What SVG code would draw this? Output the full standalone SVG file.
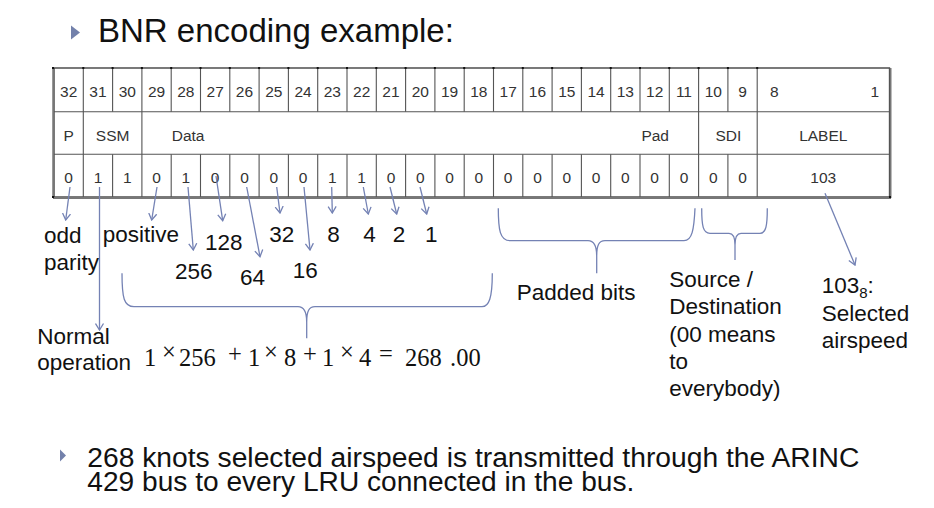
<svg xmlns="http://www.w3.org/2000/svg" width="934" height="508" viewBox="0 0 934 508">
<style>
.t{font-family:"Liberation Sans",Arial,sans-serif;fill:#333;font-size:15.5px}
.c{text-anchor:middle}
.lb{font-family:"Liberation Sans",Arial,sans-serif;fill:#111;font-size:22.5px}
.fm{font-family:"Liberation Serif","Times New Roman",serif;fill:#111;font-size:24.5px}
.gl{stroke:#555;stroke-width:1.1;fill:none}
.con{stroke:#7482b4;stroke-width:1.3;fill:none}
.bul{fill:#7381ab}
</style>
<defs>
<marker id="ah" viewBox="0 0 8 10" refX="7" refY="5" markerWidth="8" markerHeight="10" markerUnits="userSpaceOnUse" orient="auto">
<path d="M0.5,1 L7,5 L0.5,9" fill="none" stroke="#7482b4" stroke-width="1.3"/>
</marker>
</defs>
<rect width="934" height="508" fill="#ffffff"/>

<g id="title">
<polygon class="bul" points="71,25.5 80,32.5 71,39.5"/>
<text x="98" y="42" font-family="Liberation Sans, Arial, sans-serif" font-size="33" fill="#111">BNR encoding example:</text>
</g>

<g id="table">
<rect x="54" y="68" width="835.5" height="129" fill="#fff" stroke="#333" stroke-width="1.3"/>
<line x1="53" y1="198" x2="891" y2="198" stroke="#777" stroke-width="2"/>
<line x1="890.5" y1="68" x2="890.5" y2="198" stroke="#777" stroke-width="2"/>
<line x1="53" y1="68" x2="53" y2="198" stroke="#777" stroke-width="1.5"/>
<line class="gl" x1="54" y1="111.7" x2="889.5" y2="111.7"/>
<line class="gl" x1="54" y1="154.3" x2="889.5" y2="154.3"/>
<path class="gl" d="M83.3,68V197M112.6,68V111.7M112.6,154.3V197M141.9,68V197M171.2,68V111.7M171.2,154.3V197M200.5,68V111.7M200.5,154.3V197M229.8,68V111.7M229.8,154.3V197M259.1,68V111.7M259.1,154.3V197M288.4,68V111.7M288.4,154.3V197M317.7,68V111.7M317.7,154.3V197M347,68V111.7M347,154.3V197M376.3,68V111.7M376.3,154.3V197M405.6,68V111.7M405.6,154.3V197M434.9,68V111.7M434.9,154.3V197M464.2,68V111.7M464.2,154.3V197M493.5,68V111.7M493.5,154.3V197M522.8,68V111.7M522.8,154.3V197M552.1,68V111.7M552.1,154.3V197M581.4,68V111.7M581.4,154.3V197M610.7,68V111.7M610.7,154.3V197M640,68V111.7M640,154.3V197M669.3,68V111.7M669.3,154.3V197M698.6,68V197M727.9,68V111.7M727.9,154.3V197M757.2,68V197"/>
<g fill="#111">
<rect x="82.3" y="67" width="2" height="2"/><rect x="111.6" y="67" width="2" height="2"/><rect x="140.9" y="67" width="2" height="2"/><rect x="170.2" y="67" width="2" height="2"/><rect x="199.5" y="67" width="2" height="2"/><rect x="228.8" y="67" width="2" height="2"/><rect x="258.1" y="67" width="2" height="2"/><rect x="287.4" y="67" width="2" height="2"/><rect x="316.7" y="67" width="2" height="2"/><rect x="346" y="67" width="2" height="2"/><rect x="375.3" y="67" width="2" height="2"/><rect x="404.6" y="67" width="2" height="2"/><rect x="433.9" y="67" width="2" height="2"/><rect x="463.2" y="67" width="2" height="2"/><rect x="492.5" y="67" width="2" height="2"/><rect x="521.8" y="67" width="2" height="2"/><rect x="551.1" y="67" width="2" height="2"/><rect x="580.4" y="67" width="2" height="2"/><rect x="609.7" y="67" width="2" height="2"/><rect x="639" y="67" width="2" height="2"/><rect x="668.3" y="67" width="2" height="2"/><rect x="697.6" y="67" width="2" height="2"/><rect x="726.9" y="67" width="2" height="2"/><rect x="756.2" y="67" width="2" height="2"/>
<rect x="52" y="67" width="2" height="2"/><rect x="52" y="196" width="2" height="2"/><rect x="889" y="196" width="2" height="2"/>
</g>
<g class="t c">
<text x="68.65" y="97">32</text><text x="97.95" y="97">31</text><text x="127.25" y="97">30</text><text x="156.55" y="97">29</text><text x="185.85" y="97">28</text><text x="215.15" y="97">27</text><text x="244.45" y="97">26</text><text x="273.75" y="97">25</text><text x="303.05" y="97">24</text><text x="332.35" y="97">23</text><text x="361.65" y="97">22</text><text x="390.95" y="97">21</text><text x="420.25" y="97">20</text><text x="449.55" y="97">19</text><text x="478.85" y="97">18</text><text x="508.15" y="97">17</text><text x="537.45" y="97">16</text><text x="566.75" y="97">15</text><text x="596.05" y="97">14</text><text x="625.35" y="97">13</text><text x="654.65" y="97">12</text><text x="683.95" y="97">11</text><text x="713.25" y="97">10</text><text x="742.55" y="97">9</text>
<text x="68.65" y="141">P</text><text x="112.6" y="141">SSM</text><text x="728.3" y="141">SDI</text><text x="823.3" y="141">LABEL</text>
<text x="68.65" y="182.5">0</text><text x="97.95" y="182.5">1</text><text x="127.25" y="182.5">1</text><text x="156.55" y="182.5">0</text><text x="185.85" y="182.5">1</text><text x="215.15" y="182.5">0</text><text x="244.45" y="182.5">0</text><text x="273.75" y="182.5">0</text><text x="303.05" y="182.5">0</text><text x="332.35" y="182.5">1</text><text x="361.65" y="182.5">1</text><text x="390.95" y="182.5">0</text><text x="420.25" y="182.5">0</text><text x="449.55" y="182.5">0</text><text x="478.85" y="182.5">0</text><text x="508.15" y="182.5">0</text><text x="537.45" y="182.5">0</text><text x="566.75" y="182.5">0</text><text x="596.05" y="182.5">0</text><text x="625.35" y="182.5">0</text><text x="654.65" y="182.5">0</text><text x="683.95" y="182.5">0</text><text x="713.25" y="182.5">0</text><text x="742.55" y="182.5">0</text>
<text x="823.3" y="182.5">103</text>
</g>
<text class="t" x="770" y="97">8</text>
<text class="t" x="879" y="97" text-anchor="end">1</text>
<text class="t" x="171.7" y="141">Data</text>
<text class="t" x="669" y="141" text-anchor="end">Pad</text>
</g>

<g id="connectors">
<line class="con" x1="70" y1="187" x2="65.7" y2="220" marker-end="url(#ah)"/>
<line class="con" x1="99.5" y1="187" x2="99.5" y2="330" marker-end="url(#ah)"/>
<line class="con" x1="157" y1="187" x2="151.7" y2="220" marker-end="url(#ah)"/>
<line class="con" x1="188" y1="187" x2="193.3" y2="250" marker-end="url(#ah)"/>
<line class="con" x1="216" y1="176" x2="222.7" y2="220.7" marker-end="url(#ah)"/>
<line class="con" x1="246.7" y1="187" x2="260" y2="256.7" marker-end="url(#ah)"/>
<line class="con" x1="276.7" y1="187" x2="280" y2="213" marker-end="url(#ah)"/>
<line class="con" x1="304" y1="187" x2="310" y2="250" marker-end="url(#ah)"/>
<line class="con" x1="331.7" y1="187" x2="332.3" y2="213" marker-end="url(#ah)"/>
<line class="con" x1="363.3" y1="187" x2="368.3" y2="214" marker-end="url(#ah)"/>
<line class="con" x1="390" y1="187" x2="396.7" y2="214" marker-end="url(#ah)"/>
<line class="con" x1="420" y1="187" x2="426.7" y2="214" marker-end="url(#ah)"/>
<line class="con" x1="825" y1="193.3" x2="855" y2="265" marker-end="url(#ah)"/>
<path class="con" d="M122,273.3 C122,298 124,306.7 134,306.7 L298,306.7 C304,306.7 306.7,311 306.7,322 L306.7,338.3 M306.7,322 C306.7,311 309,306.7 315,306.7 L482,306.7 C489,306.7 492.3,298 492.3,273.3"/>
<path class="con" d="M498.3,208.3 C498.3,230 500,240.7 510,240.7 L588,240.7 C594,240.7 596.7,245 596.7,256 L596.7,273.3 M596.7,256 C596.7,245 599,240.7 605,240.7 L684,240.7 C692,240.7 694,230 695,208.3"/>
<path class="con" d="M701.7,208.3 C701.7,226 703,233.3 710,233.3 L729,233.3 C733,233.3 735,237 735,245 L735,260 M735,245 C735,237 737,233.3 741,233.3 L760,233.3 C766,233.3 767.3,226 767.3,208.3"/>
</g>

<g id="lbl-parity"><text class="lb" x="44" y="243">odd</text><text class="lb" x="44" y="270">parity</text></g>
<g id="lbl-ssm"><text class="lb" x="37.3" y="344">Normal</text><text class="lb" x="37.3" y="370">operation</text></g>
<g id="lbl-sign"><text class="lb" x="102.7" y="242">positive</text></g>
<g id="lbl-weights">
<text class="lb" x="175" y="278.5">256</text>
<text class="lb" x="205" y="249.5">128</text>
<text class="lb" x="240" y="285">64</text>
<text class="lb" x="269.3" y="242.3">32</text>
<text class="lb" x="292.7" y="278.3">16</text>
<text class="lb" x="327.3" y="242.3">8</text>
<text class="lb" x="363.3" y="242">4</text>
<text class="lb" x="392.7" y="242">2</text>
<text class="lb" x="425" y="242">1</text>
</g>
<g id="formula">
<text class="fm" x="144" y="366">1</text>
<text class="fm" x="162" y="360" font-size="19">×</text>
<text class="fm" x="179" y="366">256</text>
<text class="fm" x="228" y="362">+</text>
<text class="fm" x="248" y="366">1</text>
<text class="fm" x="264" y="360" font-size="19">×</text>
<text class="fm" x="284" y="366">8</text>
<text class="fm" x="303" y="362">+</text>
<text class="fm" x="322" y="366">1</text>
<text class="fm" x="340" y="360" font-size="19">×</text>
<text class="fm" x="359" y="366">4</text>
<text class="fm" x="379" y="362">=</text>
<text class="fm" x="405" y="366">268</text>
<text class="fm" x="450" y="366">.00</text>
</g>
<g id="lbl-pad"><text class="lb" x="516.7" y="300">Padded bits</text></g>
<g id="lbl-sdi">
<text class="lb" x="669.3" y="286.7">Source /</text>
<text class="lb" x="669.3" y="314">Destination</text>
<text class="lb" x="669.3" y="341.7">(00 means</text>
<text class="lb" x="669.3" y="369">to</text>
<text class="lb" x="669.3" y="396">everybody)</text>
</g>
<g id="lbl-label">
<text class="lb" x="821.7" y="293.3">103<tspan font-size="15" dy="5">8</tspan><tspan dy="-5">:</tspan></text>
<text class="lb" x="821.7" y="321">Selected</text>
<text class="lb" x="821.7" y="348.3">airspeed</text>
</g>

<g id="note">
<polygon class="bul" points="60,449.5 66,455.5 60,461.5"/>
<text x="87.3" y="466.5" font-family="Liberation Sans, Arial, sans-serif" font-size="27" textLength="772" lengthAdjust="spacingAndGlyphs" fill="#111">268 knots selected airspeed is transmitted through the ARINC</text>
<text x="87.3" y="491" font-family="Liberation Sans, Arial, sans-serif" font-size="27" textLength="547" lengthAdjust="spacingAndGlyphs" fill="#111">429 bus to every LRU connected in the bus.</text>
</g>
</svg>
